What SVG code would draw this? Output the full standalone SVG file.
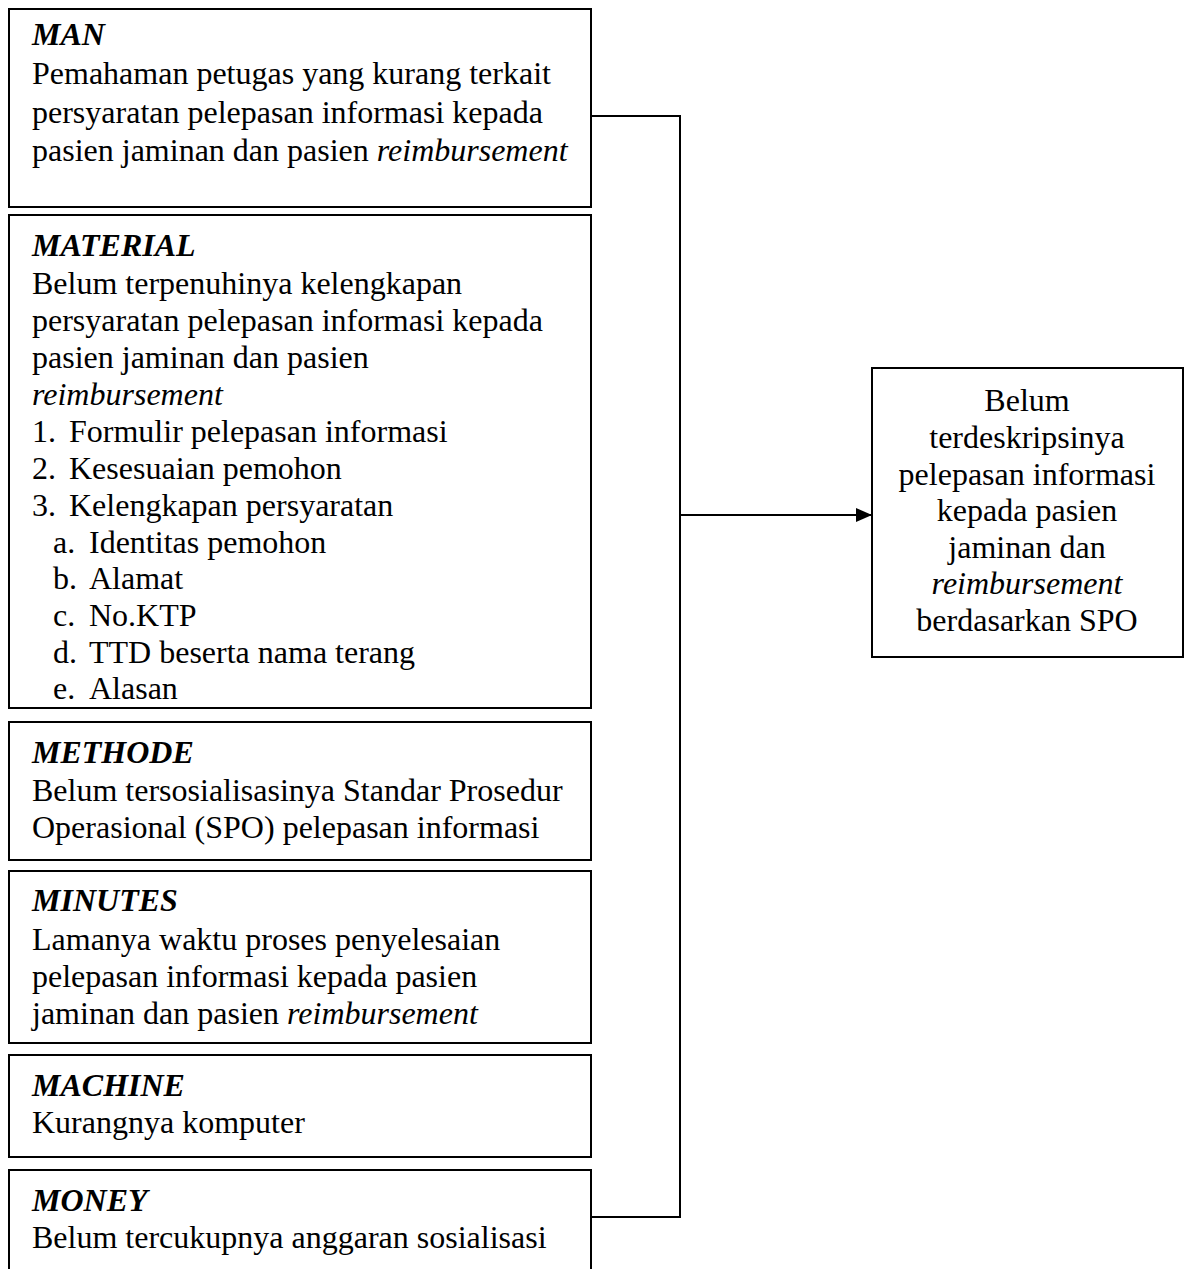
<svg xmlns="http://www.w3.org/2000/svg" width="1187" height="1269" viewBox="0 0 1187 1269">
<style>
.box{fill:#fff;stroke:#000;stroke-width:2}
.t{font-family:"Liberation Serif","Times New Roman",serif;font-size:32px;fill:#000}
.h{font-weight:bold;font-style:italic}
.i{font-style:italic}
.c{text-anchor:middle}
.ln{fill:none;stroke:#000;stroke-width:2}
</style>
<defs>
<marker id="arrow" viewBox="0 0 16 14" refX="16" refY="7" markerWidth="16" markerHeight="14" markerUnits="userSpaceOnUse" orient="auto">
<path d="M0,0 L16,7 L0,14 z" fill="#000"/>
</marker>
</defs>
<rect width="1187" height="1269" fill="#fff"/>
<g id="connectors">
<polyline class="ln" points="591,116 680,116 680,1217 591,1217"/>
<line class="ln" x1="680" y1="515" x2="872" y2="515" marker-end="url(#arrow)"/>
</g>
<g id="man">
<rect class="box" x="9" y="9" width="582" height="198"/>
<text class="t h" x="32" y="45">MAN</text>
<text class="t" x="32" y="84">Pemahaman petugas yang kurang terkait</text>
<text class="t" x="32" y="123">persyaratan pelepasan informasi kepada</text>
<text class="t" x="32" y="161">pasien jaminan dan pasien <tspan class="i">reimbursement</tspan></text>
</g>
<g id="material">
<rect class="box" x="9" y="215" width="582" height="493"/>
<text class="t h" x="32" y="256">MATERIAL</text>
<text class="t" x="32" y="294">Belum terpenuhinya kelengkapan</text>
<text class="t" x="32" y="331">persyaratan pelepasan informasi kepada</text>
<text class="t" x="32" y="368">pasien jaminan dan pasien</text>
<text class="t i" x="32" y="405">reimbursement</text>
<text class="t" x="32" y="442">1.</text><text class="t" x="69" y="442">Formulir pelepasan informasi</text>
<text class="t" x="32" y="479">2.</text><text class="t" x="69" y="479">Kesesuaian pemohon</text>
<text class="t" x="32" y="516">3.</text><text class="t" x="69" y="516">Kelengkapan persyaratan</text>
<text class="t" x="53" y="553">a.</text><text class="t" x="89" y="553">Identitas pemohon</text>
<text class="t" x="53" y="589">b.</text><text class="t" x="89" y="589">Alamat</text>
<text class="t" x="53" y="626">c.</text><text class="t" x="89" y="626">No.KTP</text>
<text class="t" x="53" y="663">d.</text><text class="t" x="89" y="663">TTD beserta nama terang</text>
<text class="t" x="53" y="699">e.</text><text class="t" x="89" y="699">Alasan</text>
</g>
<g id="methode">
<rect class="box" x="9" y="722" width="582" height="138"/>
<text class="t h" x="32" y="763">METHODE</text>
<text class="t" x="32" y="801">Belum tersosialisasinya Standar Prosedur</text>
<text class="t" x="32" y="838">Operasional (SPO) pelepasan informasi</text>
</g>
<g id="minutes">
<rect class="box" x="9" y="871" width="582" height="172"/>
<text class="t h" x="32" y="911">MINUTES</text>
<text class="t" x="32" y="950">Lamanya waktu proses penyelesaian</text>
<text class="t" x="32" y="987">pelepasan informasi kepada pasien</text>
<text class="t" x="32" y="1024">jaminan dan pasien <tspan class="i">reimbursement</tspan></text>
</g>
<g id="machine">
<rect class="box" x="9" y="1055" width="582" height="102"/>
<text class="t h" x="32" y="1096">MACHINE</text>
<text class="t" x="32" y="1133">Kurangnya komputer</text>
</g>
<g id="money">
<rect class="box" x="9" y="1170" width="582" height="110"/>
<text class="t h" x="32" y="1211">MONEY</text>
<text class="t" x="32" y="1248">Belum tercukupnya anggaran sosialisasi</text>
</g>
<g id="result">
<rect class="box" x="872" y="368" width="311" height="289"/>
<text class="t c" x="1027" y="411">Belum</text>
<text class="t c" x="1027" y="448">terdeskripsinya</text>
<text class="t c" x="1027" y="485">pelepasan informasi</text>
<text class="t c" x="1027" y="521">kepada pasien</text>
<text class="t c" x="1027" y="558">jaminan dan</text>
<text class="t c i" x="1027" y="594">reimbursement</text>
<text class="t c" x="1027" y="631">berdasarkan SPO</text>
</g>
</svg>
